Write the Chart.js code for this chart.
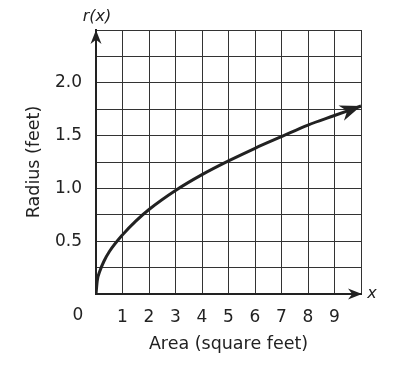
<!DOCTYPE html>
<html>
<head>
<meta charset="utf-8">
<script src="https://cdn.jsdelivr.net/npm/chart.js@4/dist/chart.umd.min.js"></script>
<style>
html,body{margin:0;padding:0;background:#fff;}
#wrap{width:395px;height:367px;position:relative;}
</style>
</head>
<body>
<div id="wrap"><canvas id="c"></canvas></div>
<script>
// Data
const areaValues = [0, 0.05, 0.15, 0.3, 0.5, 1, 1.5, 2, 3, 4, 5, 6, 7, 8, 9, 10];
const radiusValues = [0, 0.13, 0.22, 0.31, 0.4, 0.56, 0.69, 0.8, 0.98, 1.13, 1.26, 1.38, 1.49, 1.6, 1.69, 1.78];
const xTickLabels = ['1','2','3','4','5','6','7','8','9'];
const yTickLabels = ['0.5','1.0','1.5','2.0'];
const xTitle = 'Area (square feet)';
const yTitle = 'Radius (feet)';

const INK = '#222';
const FONT = '"DejaVu Sans", Verdana, sans-serif';

function arrowHead(ctx, tx, ty, ang, len, hw) {
  const c = Math.cos(ang), s = Math.sin(ang);
  const bx = tx - c*len, by = ty - s*len;
  const nx = tx - c*len*0.7, ny = ty - s*len*0.7;
  ctx.beginPath();
  ctx.moveTo(tx, ty);
  ctx.lineTo(bx - s*hw, by + c*hw);
  ctx.lineTo(nx, ny);
  ctx.lineTo(bx + s*hw, by - c*hw);
  ctx.closePath();
  ctx.fill();
}

const decor = {
  id: 'decor',
  afterDraw(chart) {
    const ctx = chart.ctx;
    const xs = chart.scales.x, ys = chart.scales.y;
    const x0 = xs.getPixelForValue(0), y0 = ys.getPixelForValue(0);
    const xMax = xs.getPixelForValue(10), yMax = ys.getPixelForValue(2.5);
    ctx.save();
    ctx.fillStyle = INK;
    // axis arrows
    arrowHead(ctx, x0, yMax, -Math.PI/2, 14, 5.5);
    arrowHead(ctx, xMax + 1, y0, 0, 14, 5.5);
    // curve arrow
    const n = areaValues.length;
    const px1 = xs.getPixelForValue(areaValues[n-2]), py1 = ys.getPixelForValue(radiusValues[n-2]);
    const px2 = xs.getPixelForValue(areaValues[n-1]), py2 = ys.getPixelForValue(radiusValues[n-1]);
    const ang = Math.atan2(py2 - py1, px2 - px1);
    arrowHead(ctx, px2, py2, ang, 21, 8);
    // labels
    ctx.font = '17px ' + FONT;
    ctx.textAlign = 'center';
    ctx.textBaseline = 'middle';
    ctx.fillText('0', 78, 316);
    ctx.font = 'italic 16px ' + FONT;
    ctx.fillText('r(x)', 97, 17);
    ctx.fillText('x', 372, 294);
    ctx.restore();
  }
};

new Chart(document.getElementById('c'), {
  type: 'line',
  data: {
    datasets: [{
      data: areaValues.map((a, i) => ({x: a, y: radiusValues[i]})),
      borderColor: INK,
      borderWidth: 3,
      pointRadius: 0,
      cubicInterpolationMode: 'monotone',
      fill: false
    }]
  },
  options: {
    responsive: true,
    maintainAspectRatio: false,
    animation: false,
    layout: {padding: {left: 0, top: 30, right: 34, bottom: 0}},
    plugins: {legend: {display: false}, tooltip: {enabled: false}},
    scales: {
      x: {
        type: 'linear', min: 0, max: 10,
        afterFit(s) { s.height = 73; },
        grid: {color: '#333', lineWidth: 1, drawTicks: false},
        border: {color: INK, width: 2},
        ticks: {
          stepSize: 1, autoSkip: false, maxRotation: 0, padding: 13,
          color: INK, font: {family: FONT, size: 17},
          callback: v => (v >= 1 && v <= 9) ? xTickLabels[v-1] : ''
        },
        title: {display: true, text: xTitle, color: INK, font: {family: FONT, size: 17.5}, padding: {top: 0, bottom: 12}}
      },
      y: {
        type: 'linear', min: 0, max: 2.5,
        afterFit(s) { s.width = 96; },
        grid: {color: '#333', lineWidth: 1, drawTicks: false},
        border: {color: INK, width: 2},
        ticks: {
          stepSize: 0.25, autoSkip: false, padding: 14,
          color: INK, font: {family: FONT, size: 17},
          callback: v => { const k = Math.round(v*2); return (Math.abs(v*2-k) < 1e-6 && k >= 1 && k <= 4) ? yTickLabels[k-1] : ''; }
        },
        title: {display: true, text: yTitle, color: INK, font: {family: FONT, size: 17.5}, padding: {top: 24, bottom: 0}}
      }
    }
  },
  plugins: [decor]
});
</script>
</body>
</html>
